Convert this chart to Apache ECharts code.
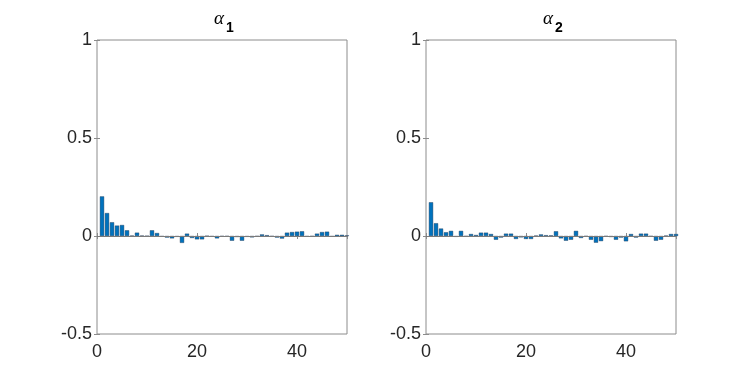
<!DOCTYPE html>
<html>
<head>
<meta charset="utf-8">
<script src="https://cdn.jsdelivr.net/npm/echarts@6/dist/echarts.min.js"></script>
<style>
  html, body { margin: 0; padding: 0; background: #fff; }
  #chart { width: 747px; height: 375px; }
</style>
</head>
<body>
<div id="chart"></div>
<script>
const lags = Array.from({ length: 50 }, (_, i) => i + 1)

const alpha1 = [
  0.202, 0.117, 0.070, 0.053, 0.056, 0.029, 0.002, 0.017, 0.002, 0.000,
  0.029, 0.015, -0.003, -0.008, -0.012, -0.004, -0.035, 0.012, -0.010, -0.017,
  -0.017, 0.000, -0.003, -0.012, -0.002, -0.002, -0.024, -0.005, -0.024, -0.004,
  -0.007, -0.002, 0.008, 0.004, -0.002, -0.008, -0.013, 0.017, 0.020, 0.022,
  0.024, -0.003, -0.002, 0.012, 0.020, 0.022, -0.003, 0.006, 0.006, 0.003
]

const alpha2 = [
  0.172, 0.065, 0.038, 0.019, 0.026, -0.004, 0.026, -0.002, 0.010, 0.005,
  0.017, 0.017, 0.010, -0.019, -0.008, 0.012, 0.012, -0.015, -0.007, -0.015,
  -0.015, 0.002, 0.008, 0.004, 0.003, 0.024, -0.012, -0.024, -0.019, 0.026,
  -0.010, -0.002, -0.019, -0.034, -0.026, -0.002, -0.005, -0.019, -0.008, -0.027,
  0.010, -0.008, 0.012, 0.012, -0.002, -0.024, -0.019, 0.002, 0.010, 0.010
]

const titles = ['1', '2']
const series = [alpha1, alpha2]
const yTicks = { min: -0.5, max: 1, interval: 0.5 }
const xTicks = { min: 0, max: 50, interval: 20 }

const chart = echarts.init(document.getElementById('chart'))

const font = 'Liberation Sans, Arial, sans-serif'
const axisGrey = '#8c8c8c'
const lefts = [97, 426]

const grids = lefts.map(l => ({
  left: l, width: 250, top: 40, bottom: 41,
  show: true, borderColor: axisGrey, borderWidth: 1, backgroundColor: '#fff'
}))

const xAxes = []
const yAxes = []
lefts.forEach((_, i) => {
  ;['bottom', 'top'].forEach(pos => {
    xAxes.push({
      type: 'value', gridIndex: i, position: pos, ...xTicks,
      axisLine: { show: false },
      axisTick: { show: true, inside: true, length: 3, lineStyle: { color: axisGrey } },
      splitLine: { show: false },
      axisLabel: {
        show: pos === 'bottom', color: '#262626', fontSize: 18, fontFamily: font, margin: 9,
        showMaxLabel: false,
        formatter: v => String(v)
      }
    })
  })
  ;['left', 'right'].forEach(pos => {
    yAxes.push({
      type: 'value', gridIndex: i, position: pos, ...yTicks,
      axisLine: { show: false },
      axisTick: { show: true, inside: true, length: 3, lineStyle: { color: axisGrey } },
      splitLine: { show: false },
      axisLabel: {
        show: pos === 'left', color: '#262626', fontSize: 18, fontFamily: font, margin: 5,
        formatter: v => String(v)
      }
    })
  })
})

chart.setOption({
  animation: false,
  backgroundColor: '#fff',
  title: titles.map((t, i) => ({
    text: '{a|α}{s|' + t + '}',
    left: lefts[i] + 122, top: 4, textAlign: 'center',
    textStyle: {
      rich: {
        a: {
          fontFamily: 'Liberation Serif, serif', fontStyle: 'italic', fontWeight: 'normal',
          fontSize: 19, color: '#000',
          lineHeight: 20, verticalAlign: 'top', padding: [0, 2, 0, 0]
        },
        s: {
          fontFamily: font, fontWeight: 'bold', fontSize: 14, color: '#000',
          lineHeight: 26, verticalAlign: 'bottom'
        }
      }
    }
  })),
  grid: grids,
  xAxis: xAxes,
  yAxis: yAxes,
  series: series.map((vals, i) => ({
    type: 'bar',
    xAxisIndex: i * 2,
    yAxisIndex: i * 2,
    data: lags.map((l, k) => [l, vals[k]]),
    barWidth: 4.2,
    clip: true,
    itemStyle: { color: '#0072BD', borderColor: '#1f3550', borderWidth: 0.4 },
    markLine: {
      silent: true, symbol: 'none', label: { show: false },
      lineStyle: { color: '#7a7a7a', width: 1, type: 'solid' },
      data: [{ yAxis: 0 }]
    }
  }))
})
</script>
</body>
</html>
